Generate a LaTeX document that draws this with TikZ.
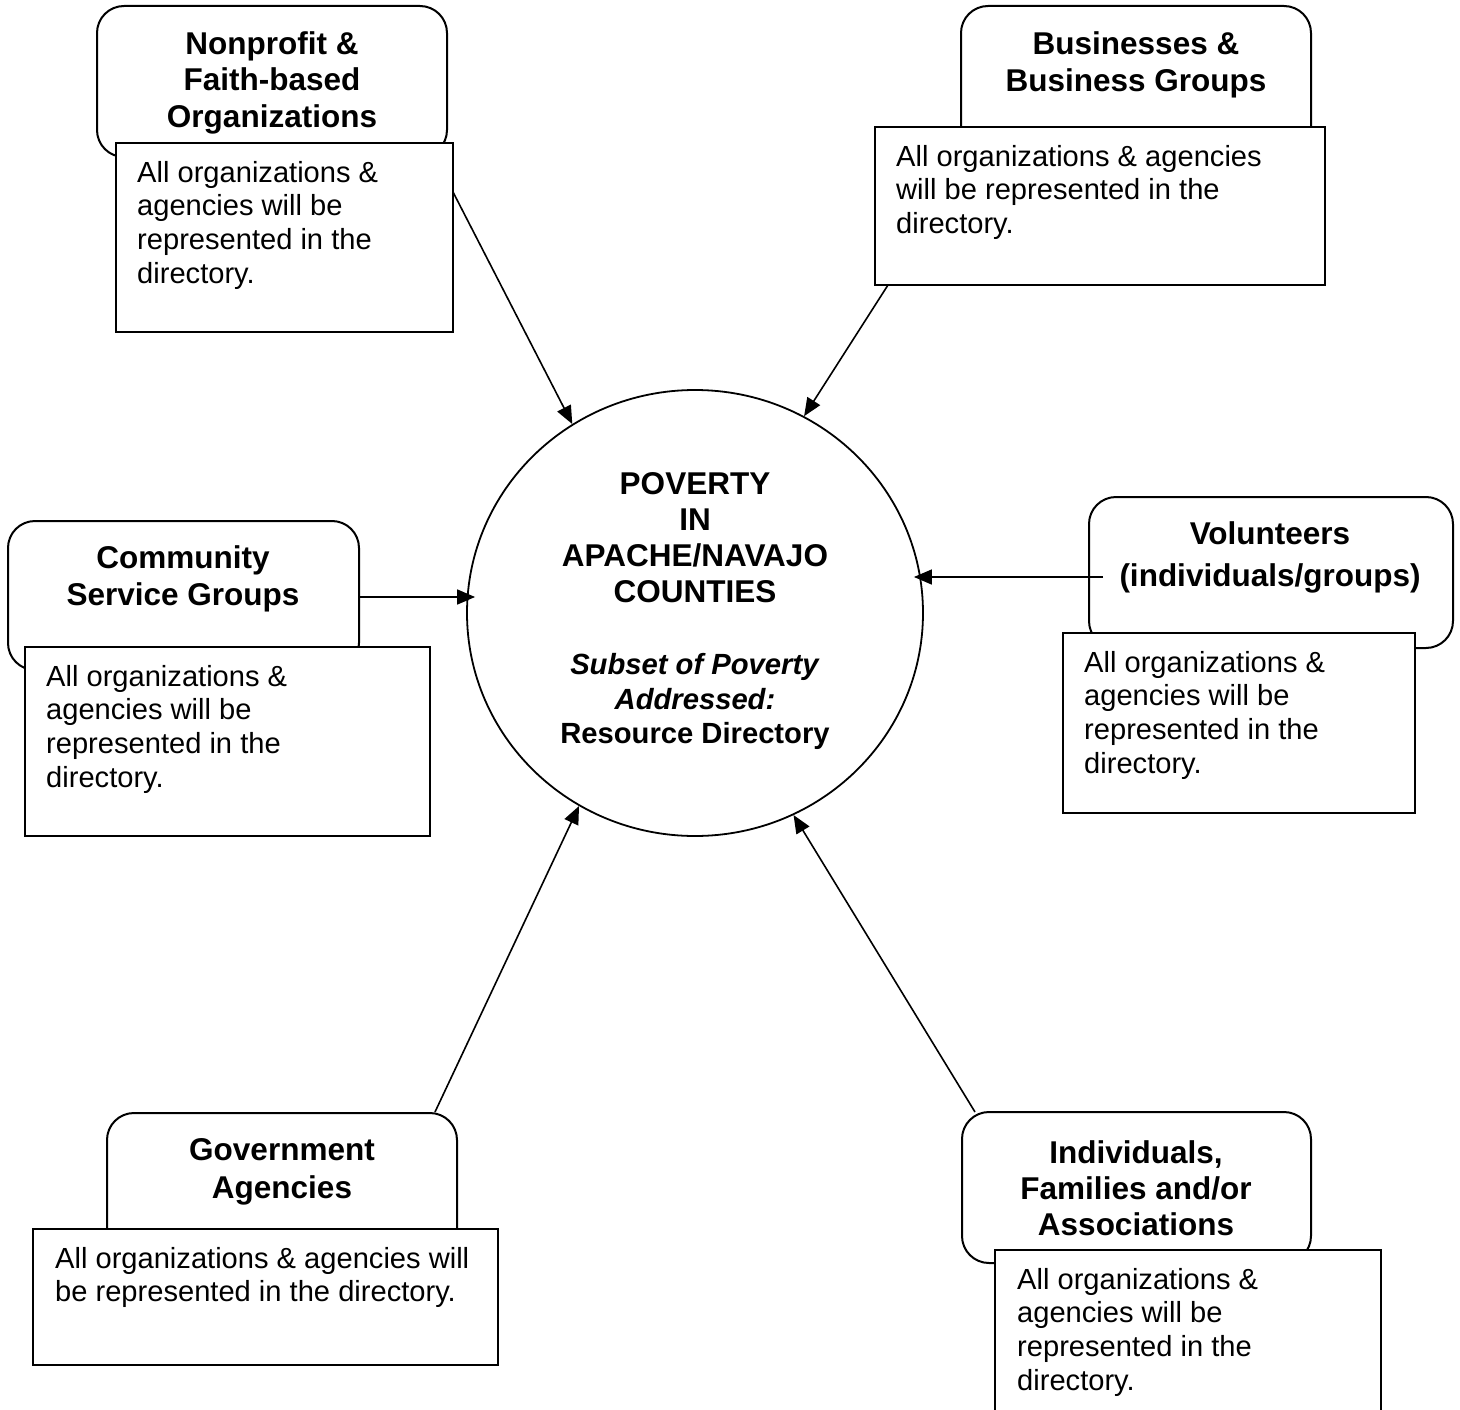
\documentclass[tikz,border=0pt]{standalone}
\usepackage{fontspec}
\setmainfont{Liberation Sans}
\usetikzlibrary{arrows.meta,shapes.geometric}
\begin{document}
\begin{tikzpicture}[x=1pt,y=-1pt,
  titlebox/.style={draw, line width=2pt, rounded corners=27pt, rectangle, inner sep=0pt},
  textbox/.style={draw, fill=white, line width=2pt, rectangle, inner sep=0pt},
  titletext/.style={anchor=north, align=center, inner sep=0pt, font=\fontsize{31.5pt}{37pt}\selectfont\bfseries},
  bodytext/.style={anchor=north west, align=left, inner sep=0pt, font=\fontsize{29.1pt}{33.7pt}\selectfont},
  link/.style={line width=1.6pt, -{Triangle[length=18pt,width=15pt]}}]
\useasboundingbox (0,0) rectangle (1460,1410);
\clip (0,0) rectangle (1460,1410);

% centre
\node[draw, ellipse, line width=1.8pt, inner sep=0pt, minimum width=456pt, minimum height=446pt] (core) at (695,613) {};
\node[anchor=north, align=center, inner sep=0pt, font=\fontsize{31.5pt}{36.2pt}\selectfont\bfseries] (coretitle) at (695,472) {POVERTY\\IN\\APACHE/NAVAJO\\COUNTIES};
\node[anchor=north, align=center, inner sep=0pt, font=\fontsize{29.2pt}{34.8pt}\selectfont\bfseries] (coresub) at (695,653) {\textit{Subset of Poverty}\\\textit{Addressed:}\\Resource Directory};

% Nonprofit
\node[titlebox, minimum width=350pt, minimum height=151pt] (np) at (272,81.5) {};
\node[titletext, font=\fontsize{31.5pt}{36.5pt}\selectfont\bfseries] (nptitle) at (272,31) {Nonprofit \&\\Faith-based\\Organizations};
\node[textbox, minimum width=337pt, minimum height=189pt] (npt) at (284.5,237.5) {};
\node[bodytext] (npbody) at (137,161) {All organizations \&\\agencies will be\\represented in the\\directory.};

% Businesses
\node[titlebox, minimum width=350pt, minimum height=151pt] (bu) at (1136,81.5) {};
\node[titletext] (butitle) at (1136,31) {Businesses \&\\Business Groups};
\node[textbox, minimum width=450pt, minimum height=158pt] (but) at (1100,206) {};
\node[bodytext] (bubody) at (896,145) {All organizations \& agencies\\will be represented in the\\directory.};

% Community
\node[titlebox, minimum width=351pt, minimum height=149pt] (cs) at (183.5,595.5) {};
\node[titletext] (cstitle) at (183,545) {Community\\Service Groups};
\node[textbox, minimum width=405pt, minimum height=189pt] (cst) at (227.5,741.5) {};
\node[bodytext] (csbody) at (46,665) {All organizations \&\\agencies will be\\represented in the\\directory.};

% Volunteers
\node[titlebox, minimum width=364pt, minimum height=151pt] (vo) at (1271,572.5) {};
\node[titletext, font=\fontsize{31.5pt}{42pt}\selectfont\bfseries] (votitle) at (1270,521) {Volunteers\\(individuals/groups)};
\node[textbox, minimum width=352pt, minimum height=180pt] (vot) at (1239,723) {};
\node[bodytext] (vobody) at (1084,651) {All organizations \&\\agencies will be\\represented in the\\directory.};

% Government
\node[titlebox, minimum width=350pt, minimum height=150pt] (go) at (282,1188) {};
\node[titletext, font=\fontsize{31.5pt}{38pt}\selectfont\bfseries] (gotitle) at (282,1138) {Government\\Agencies};
\node[textbox, minimum width=465pt, minimum height=136pt] (got) at (265.5,1297) {};
\node[bodytext] (gobody) at (55,1247) {All organizations \& agencies will\\be represented in the directory.};

% Individuals
\node[titlebox, minimum width=349pt, minimum height=151pt] (in) at (1136.5,1187.5) {};
\node[titletext, font=\fontsize{31.5pt}{36pt}\selectfont\bfseries] (intitle) at (1136,1140) {Individuals,\\Families and/or\\Associations};
\node[textbox, minimum width=386pt, minimum height=200pt] (int) at (1188,1350) {};
\node[bodytext] (inbody) at (1017,1268) {All organizations \&\\agencies will be\\represented in the\\directory.};

% connector start points
\coordinate (npS) at (453,192);
\coordinate (buS) at (888,285);
\coordinate (csS) at (359,597);
\coordinate (voS) at (1103,577);
\coordinate (goS) at (435,1112);
\coordinate (inS) at (975,1112);

\draw[link] (npS) -- (core.123.8);
\draw[link] (buS) -- (core.61.2);
\draw[link, shorten >=-9pt] (csS) -- (csS -| core.west);
\draw[link, shorten >=-10pt] (voS) -- (voS -| core.east);
\draw[link] (goS) -- (core.239.7);
\draw[link] (inS) -- (core.296.2);
\end{tikzpicture}
\end{document}
